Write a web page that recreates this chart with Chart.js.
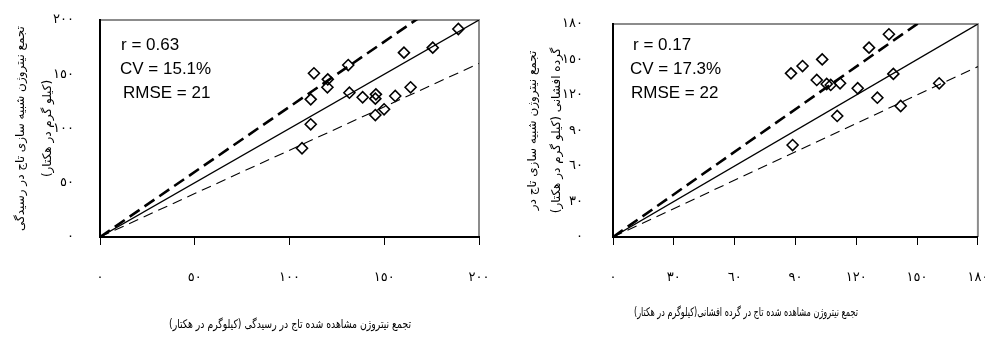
<!DOCTYPE html>
<html>
<head>
<meta charset="utf-8">
<script src="https://cdn.jsdelivr.net/npm/chart.js@4.4.1/dist/chart.umd.min.js"></script>
<style>
  body { margin: 0; background: #fff; }
  #wrap { position: relative; width: 985px; height: 338px; overflow: hidden; }
  canvas { position: absolute; top: 0; }
</style>
</head>
<body>
<div id="wrap">
  <canvas id="leftChart" dir="rtl" width="492" height="338" style="left:0"></canvas>
  <canvas id="rightChart" dir="rtl" width="493" height="338" style="left:492px"></canvas>
</div>
<script>
// left panel: maturity (رسیدگی)
const leftObs = [106.6, 111.2, 111.2, 112.9, 120.2, 120.0, 131.0, 131.6, 138.6, 145.6, 145.3, 145.3, 149.9, 155.8, 163.9, 160.4, 175.6, 189.1];
const leftSim = [81.8, 103.9, 126.9, 150.9, 145.3, 138.0, 158.5, 133.0, 128.8, 131.5, 127.5, 112.4, 117.7, 130.0, 138.0, 169.9, 174.5, 191.7];
const leftTicks = ['٠', '٥٠', '١٠٠', '١٥٠', '٢٠٠'];
const leftStats = ['r = 0.63', 'CV = 15.1%', 'RMSE = 21'];
const leftYTitle = ['تجمع نیتروژن شبیه سازی تاج در رسیدگی', '(کیلو گرم در هکتار)'];
const leftXTitle = 'تجمع نیتروژن مشاهده شده تاج در رسیدگی (کیلوگرم در هکتار)';

// right panel: pollination (گرده افشانی)
const rightObs = [87.8, 93.5, 103.2, 100.5, 105.4, 107.4, 112.0, 110.6, 120.7, 126.3, 136.1, 138.3, 130.4, 141.9, 160.9, 88.6];
const rightSim = [138.3, 144.5, 150.1, 132.7, 129.3, 128.5, 129.9, 102.3, 125.7, 160.0, 171.3, 137.8, 117.7, 110.7, 129.9, 77.7];
const rightTicks = ['٠', '٣٠', '٦٠', '٩٠', '١٢٠', '١٥٠', '١٨٠'];
const rightStats = ['r = 0.17', 'CV = 17.3%', 'RMSE = 22'];
const rightYTitle = ['تجمع نیتروژن شبیه سازی تاج در', 'گرده افشانی (کیلو گرم در هکتار)'];
const rightXTitle = 'تجمع نیتروژن مشاهده شده تاج در گرده افشانی(کیلوگرم در هکتار)';

// 1:1 line and ±20% lines (end points)
const leftLine11 = [[0, 0], [200, 200]];
const leftLineUp = [[0, 0], [200, 240]];
const leftLineLow = [[0, 0], [200, 160]];
const rightLine11 = [[0, 0], [180, 180]];
const rightLineUp = [[0, 0], [180, 216]];
const rightLineLow = [[0, 0], [180, 144]];

const faFont = '"DejaVu Sans", sans-serif';

// gray frame on top / right of the plot area
const frame = {
  id: 'frame',
  beforeDraw(chart) {
    const {ctx, chartArea: a} = chart;
    ctx.save();
    ctx.strokeStyle = '#8c8c8c';
    ctx.lineWidth = 2;
    ctx.beginPath();
    ctx.moveTo(a.left, a.top);
    ctx.lineTo(a.right, a.top);
    ctx.lineTo(a.right, a.bottom);
    ctx.stroke();
    ctx.restore();
  }
};

// r / CV / RMSE box and the x-axis title
const texts = {
  id: 'texts',
  afterDraw(chart, args, opts) {
    const {ctx, chartArea: a} = chart;
    ctx.save();
    ctx.direction = 'ltr';
    ctx.fillStyle = '#000';
    ctx.textBaseline = 'middle';
    ctx.textAlign = 'left';
    ctx.font = '17px "Liberation Sans", Arial, sans-serif';
    opts.stats.forEach((t, i) => {
      ctx.fillText(t, a.left + opts.statX[i], a.top + opts.statY + i * 24);
    });
    ctx.direction = 'rtl';
    ctx.textAlign = 'center';
    ctx.font = '12px ' + faFont;
    ctx.fillText(opts.xTitle, a.left + opts.titleX, opts.titleY, opts.titleW);
    ctx.restore();
  }
};

function pts(xs, ys) {
  return xs.map((x, i) => ({x: x, y: ys[i]}));
}
function seg(p) {
  return p.map(q => ({x: q[0], y: q[1]}));
}

function makeChart(id, cfg) {
  const lineSet = (data, width, dash) => ({
    data: seg(data),
    showLine: true,
    borderColor: '#000',
    borderWidth: width,
    borderDash: dash,
    pointRadius: 0,
    fill: false
  });

  return new Chart(document.getElementById(id), {
    type: 'scatter',
    data: {
      datasets: [
        {
          data: pts(cfg.obs, cfg.sim),
          pointStyle: 'rectRot',
          pointRadius: 5.5,
          pointBorderWidth: 1.6,
          pointBorderColor: '#000',
          pointBackgroundColor: 'rgba(0,0,0,0)'
        },
        lineSet(cfg.l11, 1.3, []),
        lineSet(cfg.up, 2.6, [12, 6]),
        lineSet(cfg.low, 1.1, [10, 6])
      ]
    },
    options: {
      responsive: false,
      animation: false,
      layout: {padding: {left: 0, right: cfg.padRight, top: cfg.padTop, bottom: 0}},
      plugins: {
        legend: {display: false},
        tooltip: {enabled: false},
        texts: {
          stats: cfg.stats, statX: cfg.statX, statY: cfg.statY,
          xTitle: cfg.xTitle, titleX: cfg.titleX, titleY: cfg.titleY, titleW: cfg.titleW
        }
      },
      scales: {
        x: {
          min: 0, max: cfg.max,
          ticks: {
            stepSize: cfg.step,
            color: '#000',
            padding: 25,
            maxRotation: 0,
            autoSkip: false,
            font: {family: faFont, size: 13},
            callback: (v, i) => cfg.ticks[i]
          },
          grid: {drawOnChartArea: false, drawTicks: true, tickLength: 8, color: '#000', tickWidth: 1},
          border: {display: true, color: '#000', width: 2},
          afterFit: s => { s.height = 101; s.paddingLeft = 0; s.paddingRight = 0; }
        },
        y: {
          min: 0, max: cfg.max,
          ticks: {
            stepSize: cfg.step,
            color: '#000',
            padding: cfg.yPad,
            font: {family: faFont, size: 13},
            callback: (v, i) => cfg.ticks[i]
          },
          grid: {display: false},
          border: {display: true, color: '#000', width: 2},
          title: {
            display: true,
            text: cfg.yTitle,
            color: '#000',
            padding: {top: cfg.yTitlePad, bottom: 0},
            font: {family: faFont, size: 12, lineHeight: cfg.yTitleLH}
          },
          afterFit: s => { s.width = cfg.yWidth; s.paddingTop = 0; s.paddingBottom = 0; }
        }
      }
    },
    plugins: [frame, texts]
  });
}

makeChart('leftChart', {
  obs: leftObs, sim: leftSim, l11: leftLine11, up: leftLineUp, low: leftLineLow,
  max: 200, step: 50, ticks: leftTicks,
  stats: leftStats, statX: [21, 20, 23], statY: 25,
  xTitle: leftXTitle, titleX: 190, titleY: 325, titleW: 242,
  yTitle: leftYTitle, yTitlePad: 7, yTitleLH: '27px', yWidth: 100, yPad: 18,
  padRight: 13, padTop: 20
});

makeChart('rightChart', {
  obs: rightObs, sim: rightSim, l11: rightLine11, up: rightLineUp, low: rightLineLow,
  max: 180, step: 30, ticks: rightTicks,
  stats: rightStats, statX: [20, 17, 18], statY: 21,
  xTitle: rightXTitle, titleX: 133, titleY: 313, titleW: 224,
  yTitle: rightYTitle, yTitlePad: 29, yTitleLH: '24px', yWidth: 121, yPad: 22,
  padRight: 7, padTop: 24
});
</script>
</body>
</html>
